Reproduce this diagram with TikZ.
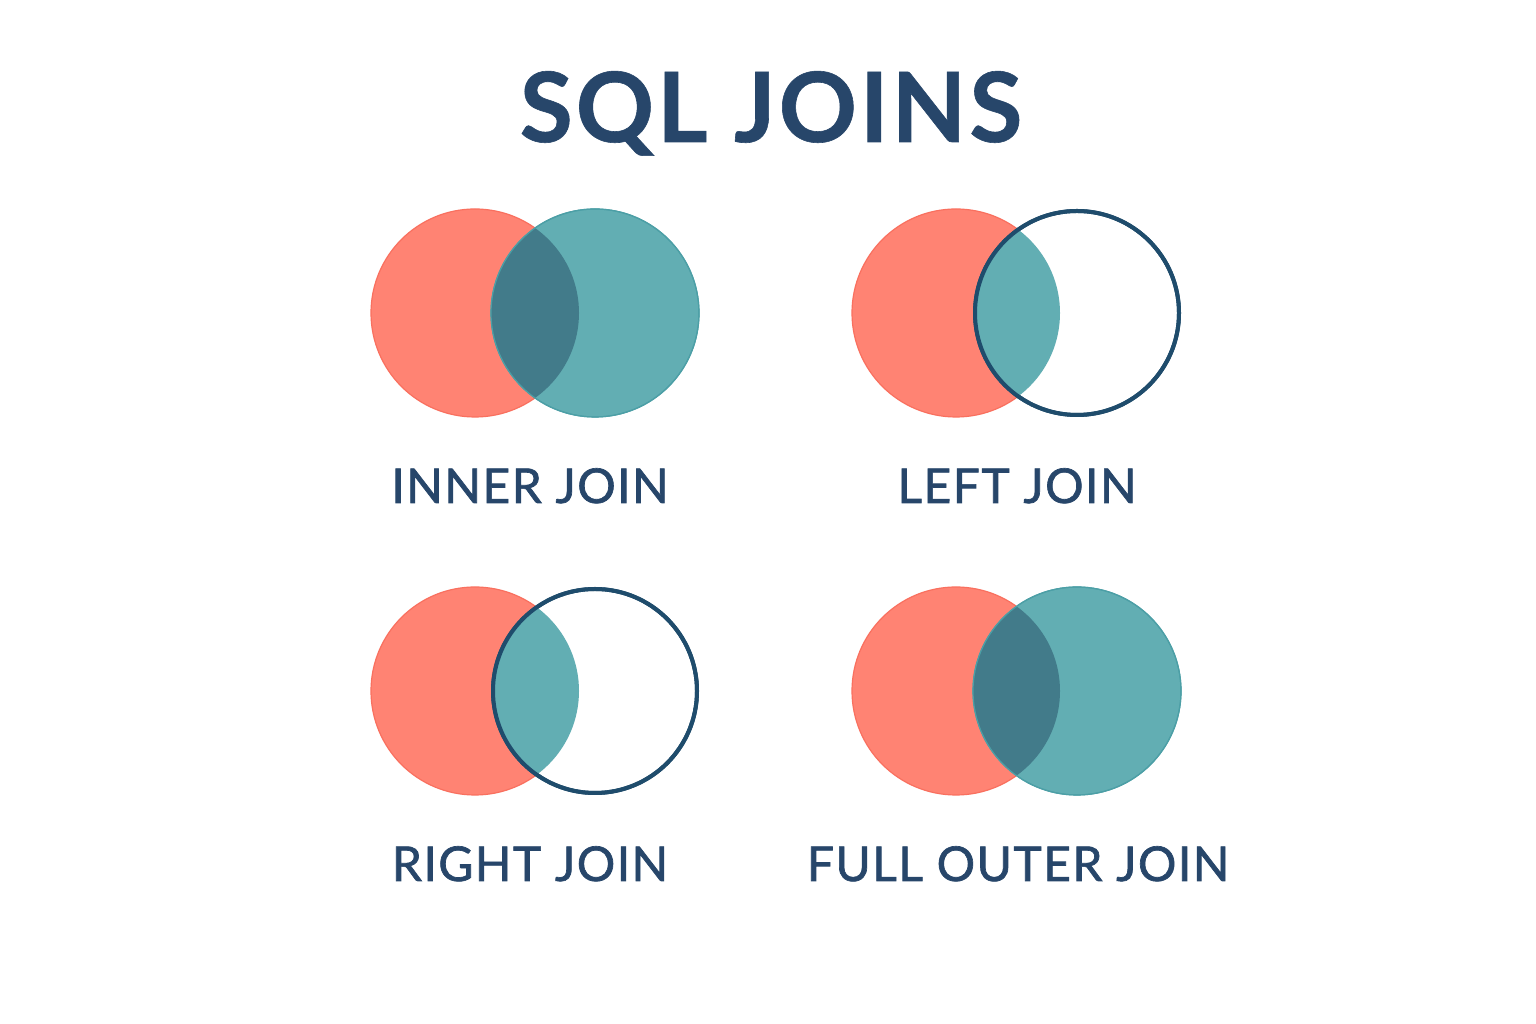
\documentclass[tikz,border=0pt]{standalone}
\usepackage{fontspec}
\setmainfont{Lato}
\newfontfamily\titlefont{Lato}[FakeBold=0.6,LetterSpace=3]
\newfontfamily\labelfont{Lato}[LetterSpace=3,FakeBold=1.4]
\definecolor{salmon}{HTML}{FF8373}
\definecolor{salmonedge}{HTML}{F9705F}
\definecolor{teal}{HTML}{62AEB3}
\definecolor{tealedge}{HTML}{4C9FA6}
\definecolor{overlap}{HTML}{427B8A}
\definecolor{navy}{HTML}{27466A}
\definecolor{ring}{HTML}{1F4C6C}
\begin{document}
\begin{tikzpicture}[x=1pt,y=1pt,
  tablea/.style={fill=salmon,draw=salmonedge,line width=1.2pt},
  tableb/.style={fill=teal,draw=tealedge,line width=1.2pt},
  hollow/.style={fill=white,draw=ring,line width=4pt},
  joinlabel/.style={text=navy,font=\labelfont\fontsize{48}{56}\selectfont,anchor=base},
  title/.style={text=navy,font=\titlefont\bfseries\fontsize{97}{110}\selectfont,anchor=base}]
\useasboundingbox[fill=white] (0,0) rectangle (1536,1024);
\def\r{104}
% circle centres
\coordinate (ia) at (475,711);  \coordinate (ib) at (595,711);
\coordinate (la) at (956,711);  \coordinate (lb) at (1077,711);
\coordinate (ra) at (475,333);  \coordinate (rb) at (595,333);
\coordinate (fa) at (956,333);  \coordinate (fb) at (1077,333);

% title
\node[title] (heading) at (771,882) {SQL JOINS};

% INNER JOIN: both filled, darker overlap
\fill[tablea] (ia) circle (\r);
\fill[tableb] (ib) circle (\r);
\begin{scope}
  \clip (ia) circle (\r);
  \fill[overlap] (ib) circle (\r);
\end{scope}
\draw[tealedge,line width=1.2pt] (ib) circle (\r);
\node[joinlabel] (inner) at (530,521) {INNER JOIN};

% LEFT JOIN: left filled, overlap teal, right hollow ring
\fill[tablea] (la) circle (\r);
\draw[hollow] (lb) circle (\r-2);
\begin{scope}
  \clip (la) circle (\r);
  \fill[tableb] (lb) circle (\r-2);
\end{scope}
\draw[ring,line width=4pt] (lb) circle (\r-2);
\node[joinlabel] (left) at (1017,521) {LEFT JOIN};

% RIGHT JOIN
\fill[tablea] (ra) circle (\r);
\draw[hollow] (rb) circle (\r-2);
\begin{scope}
  \clip (ra) circle (\r);
  \fill[tableb] (rb) circle (\r-2);
\end{scope}
\draw[ring,line width=4pt] (rb) circle (\r-2);
\node[joinlabel] (right) at (530,143) {RIGHT JOIN};

% FULL OUTER JOIN
\fill[tablea] (fa) circle (\r);
\fill[tableb] (fb) circle (\r);
\begin{scope}
  \clip (fa) circle (\r);
  \fill[overlap] (fb) circle (\r);
\end{scope}
\draw[tealedge,line width=1.2pt] (fb) circle (\r);
\node[joinlabel] (full) at (1018,143) {FULL OUTER JOIN};
\end{tikzpicture}
\end{document}
